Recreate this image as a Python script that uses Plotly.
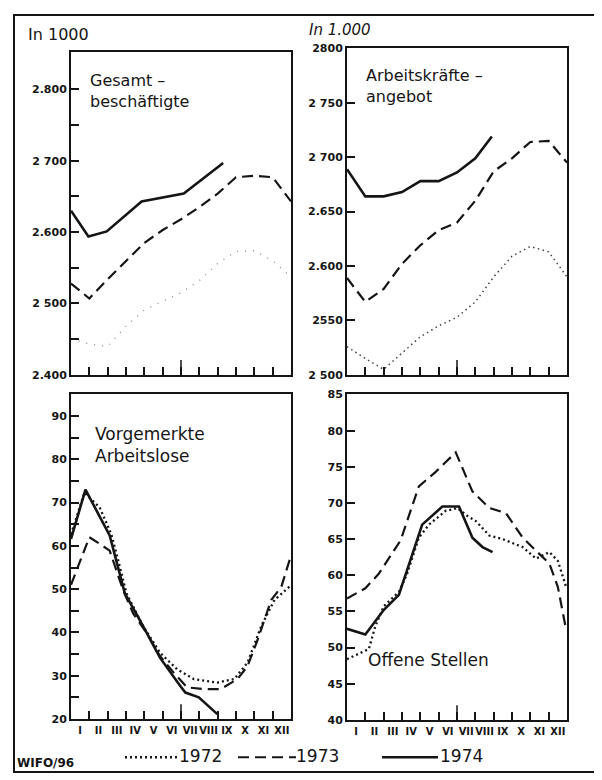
"""WIFO chart: labour market 1972-1974 by month (four panels), redrawn in Plotly."""

import plotly.graph_objects as go

# The page body keeps an 8px margin, so the figure is drawn 8px smaller and
# every layout position below is given in page pixels and shifted by OFF.
PAGE_W, PAGE_H = 602, 780
OFF = 8
W, H = PAGE_W - OFF, PAGE_H - OFF
INK = "#151515"
FONT = "DejaVu Sans"
NARROW = "Liberation Sans Narrow, DejaVu Sans Condensed, Roboto Condensed, DejaVu Sans"

MONTHS = ["I", "II", "III", "IV", "V", "VI", "VII", "VIII", "IX", "X", "XI", "XII"]
GRID = list(range(13))  # month boundaries 0..12

# Gesamtbeschäftigte (in 1000)
GES_1972 = [2451, 2443, 2440, 2468, 2491, 2503, 2515, 2532, 2556, 2573, 2574, 2560, 2537]
GES_1973 = [2528, 2507, 2534, 2559, 2585, 2603, 2618, 2635, 2654, 2677, 2679, 2677, 2643]
GES_1974_X = [0, 0.95, 1.95, 3.85, 6.15, 8.3]
GES_1974 = [2630, 2594, 2601, 2643, 2654, 2697]

# Arbeitskräfteangebot (in 1000)
ARB_1972 = [2526, 2515, 2505, 2520, 2535, 2545, 2553, 2567, 2590, 2609, 2618, 2613, 2590]
ARB_1973 = [2589, 2567, 2579, 2602, 2619, 2633, 2640, 2660, 2687, 2699, 2714, 2715, 2695]
ARB_1974_X = [0, 1, 2, 3, 4, 5, 6, 7, 7.9]
ARB_1974 = [2689, 2664, 2664, 2668, 2678, 2678, 2686, 2699, 2719]

# Vorgemerkte Arbeitslose (in 1000)
ALO_1972_X = [0, 0.73, 1.56, 2.2, 2.48, 3.03, 3.94, 4.86, 5.78, 6.7, 7.98, 8.9, 9.63, 10.37, 11.1, 12]
ALO_1972 = [62.7, 72.3, 68.9, 62.7, 58.2, 49, 41.4, 35.3, 31.5, 29.2, 28.4, 29.2, 33, 41.4, 47.5, 50.9]
ALO_1973_X = [0, 1.0, 1.56, 2.11, 2.84, 3.39, 4.13, 4.86, 5.6, 6.33, 7.25, 8.17, 9.08, 9.63, 10.18, 10.92, 11.47, 12]
ALO_1973 = [51, 62, 60.5, 58.9, 49.8, 44.4, 39.8, 34.5, 30.7, 27.3, 26.9, 26.9, 29.2, 32.2, 38.3, 47.5, 50.5, 57.8]
ALO_1974_X = [0, 0.79, 2.11, 2.94, 3.94, 4.86, 5.96, 6.24, 6.97, 7.98]
ALO_1974 = [61.6, 73, 62.4, 49, 41.4, 34.1, 27.6, 26.1, 25, 21.1]

# Offene Stellen (in 1000)
OFF_1972_X = [0, 1.19, 1.55, 2.0, 2.83, 3.28, 3.92, 4.47, 5.38, 6.02, 6.57, 7.03, 7.76, 8.49, 9.58, 10.31, 11.04, 11.5, 11.95]
OFF_1972 = [48.4, 49.8, 53, 55.7, 57.7, 60.2, 65.2, 67, 68.9, 69.3, 68.2, 67.5, 65.5, 65, 63.9, 62.3, 63.2, 62, 58.4]
OFF_1973_X = [0, 1.0, 1.73, 2.92, 3.92, 4.84, 5.93, 6.84, 7.76, 8.67, 9.58, 10.31, 11.04, 11.5, 11.95]
OFF_1973 = [56.8, 58.2, 60.2, 64.8, 72.3, 74.3, 77, 71.6, 69.3, 68.6, 65.2, 63.4, 61.6, 58.4, 52.5]
OFF_1974_X = [0, 1.0, 2.0, 2.83, 4.1, 5.2, 6.11, 6.84, 7.39, 7.94]
OFF_1974 = [52.6, 51.8, 55.2, 57.3, 67, 69.5, 69.5, 65.2, 63.9, 63.2]

# y ticks per panel
GES_TICKS = [2400, 2500, 2600, 2700, 2800]
GES_LABELS = ["2.400", "2 500", "2.600", "2 700", "2.800"]
ARB_TICKS = [2500, 2550, 2600, 2650, 2700, 2750, 2800]
ARB_LABELS = ["2 500", "2550", "2.600", "2.650", "2 700", "2 750", "2800"]
ALO_TICKS = [20, 30, 40, 50, 60, 70, 80, 90]
OFF_TICKS = [40, 45, 50, 55, 60, 65, 70, 75, 80, 85]


def px(x):
    return (x - OFF) / W


def py(y):
    return 1 - (y - OFF) / H


def _line(year, dots="heavy"):
    if year == 1974:
        return dict(color=INK, width=2.6)
    if year == 1973:
        return dict(color=INK, width=2.2, dash="11px,6px")
    if dots == "faint":
        return dict(color="#8a8a8a", width=1.3, dash="1px,7px")
    if dots == "light":
        return dict(color="#444", width=1.5, dash="1.5px,3.5px")
    return dict(color=INK, width=2.3, dash="2px,3px")


fig = go.Figure()

panels = [
    # axis suffix, x px span, y px span, series, dotted weight
    ("", (71, 291), (47, 375), [(GRID, GES_1972, 1972), (GRID, GES_1973, 1973), (GES_1974_X, GES_1974, 1974)], "faint"),
    ("2", (347, 567), (43, 375), [(GRID, ARB_1972, 1972), (GRID, ARB_1973, 1973), (ARB_1974_X, ARB_1974, 1974)], "light"),
    ("3", (71, 291), (395, 725), [(ALO_1972_X, ALO_1972, 1972), (ALO_1973_X, ALO_1973, 1973), (ALO_1974_X, ALO_1974, 1974)], "heavy"),
    ("4", (347, 567), (395, 726), [(OFF_1972_X, OFF_1972, 1972), (OFF_1973_X, OFF_1973, 1973), (OFF_1974_X, OFF_1974, 1974)], "heavy"),
]

for suffix, _xs, _ys, series, dots in panels:
    for xs, ys, year in series:
        fig.add_trace(
            go.Scatter(
                x=xs, y=ys, mode="lines", name=str(year), showlegend=False,
                line=_line(year, dots), xaxis="x" + suffix, yaxis="y" + suffix,
            )
        )

tickfont = dict(family=FONT, size=11, color=INK, weight="bold")
axis_common = dict(
    showline=True, linecolor=INK, linewidth=2, mirror=True, showgrid=False,
    zeroline=False, ticks="inside", tickcolor=INK, tickwidth=1.5, ticklen=8,
    tickfont=tickfont, fixedrange=True,
)

y_specs = {
    "": dict(range=[2400, 2852], tickvals=GES_TICKS, ticktext=GES_LABELS,
             minor=dict(tickvals=[2450, 2550, 2650, 2750], ticks="inside", ticklen=8, tickcolor=INK)),
    "2": dict(range=[2500, 2800], tickvals=ARB_TICKS, ticktext=ARB_LABELS),
    "3": dict(range=[20, 95], tickvals=ALO_TICKS, ticktext=[str(v) for v in ALO_TICKS],
              minor=dict(tickvals=[v + 5 for v in ALO_TICKS[:-1]], ticks="inside", ticklen=8, tickcolor=INK)),
    "4": dict(range=[40, 85], tickvals=OFF_TICKS, ticktext=[str(v) for v in OFF_TICKS]),
}

layout_axes = {}
for suffix, (x0, x1), (y0, y1), _series, _d in panels:
    bottom = suffix in ("3", "4")
    layout_axes["xaxis" + suffix] = dict(
        axis_common, domain=[px(x0), px(x1)], range=[0, 12], anchor="y" + suffix,
        tickvals=[i + 0.5 for i in range(12)], ticktext=MONTHS, ticklen=0, tickangle=0,
        showticklabels=bottom, tickfont=dict(family=NARROW, size=11, color=INK, weight="bold"),
        minor=dict(tickvals=GRID[1:-1], ticks="inside", ticklen=8, tickcolor=INK, tickwidth=1.5),
    )
    layout_axes["yaxis" + suffix] = dict(
        axis_common, domain=[py(y1), py(y0)], anchor="x" + suffix, **y_specs[suffix]
    )
    # longer mid-year tick
    fig.add_shape(type="line", xref="x" + suffix, yref="y" + suffix + " domain",
                  x0=6, x1=6, y0=0, y1=15 / (y1 - y0), line=dict(color=INK, width=1.5))

fig.update_layout(
    width=W, height=H, autosize=False,
    margin=dict(l=0, r=0, t=0, b=0),
    paper_bgcolor="white", plot_bgcolor="white",
    font=dict(family=FONT, color=INK),
    **layout_axes,
)

# outer frame
fig.add_shape(type="rect", xref="paper", yref="paper", x0=px(14), x1=px(600), y0=py(779), y1=py(9),
              line=dict(color=INK, width=2), layer="below")


def note(text, x, y, size=17, anchor="left", yanchor="top", **font):
    fig.add_annotation(text=text, xref="paper", yref="paper", x=px(x), y=py(y), showarrow=False,
                       xanchor=anchor, yanchor=yanchor, align="left",
                       font=dict(family=FONT, size=size, color=INK, **font))


note("In 1000", 26, 17, size=16)
note("<i>In 1.000</i>", 307, 13, size=15)
note("Gesamt –<br>beschäftigte", 88, 64, size=16)
note("Arbeitskräfte –<br>angebot", 364, 59, size=16)
note("Vorgemerkte<br>Arbeitslose", 93, 423, size=17)
note("Offene Stellen", 366, 653, size=17)
note("WIFO/96", 15, 779, size=12, yanchor="bottom", weight="bold")

# legend
legend_items = [(1972, 125, 180, 177), (1973, 238, 296, 294), (1974, 382, 438, 438)]
for year, lx0, lx1, tx in legend_items:
    fig.add_shape(type="line", xref="paper", yref="paper", x0=px(lx0), x1=px(lx1), y0=py(764), y1=py(764),
                  line=_line(year))
    note(str(year), tx, 763, size=17, yanchor="middle")

fig.write_html("out.html")
